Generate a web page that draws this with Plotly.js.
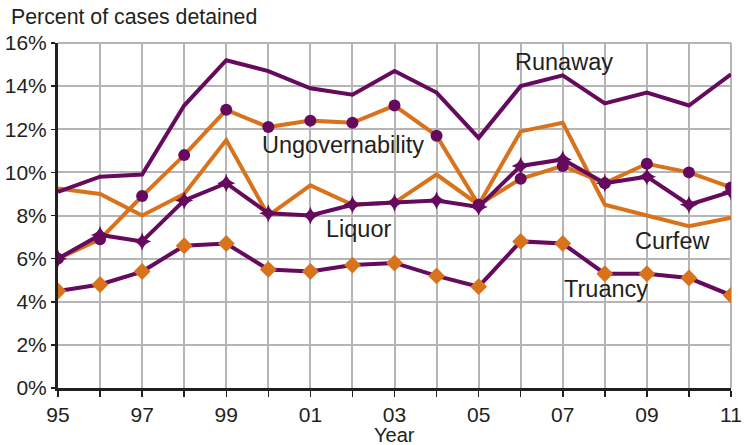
<!DOCTYPE html>
<html>
<head>
<meta charset="utf-8">
<script src="https://cdn.plot.ly/plotly-3.0.1.min.js"></script>
<style>html,body{margin:0;padding:0;background:#fff;}#chart{width:745px;height:445px;}</style>
</head>
<body>
<div id="chart"></div>
<script>
const years = [1995,1996,1997,1998,1999,2000,2001,2002,2003,2004,2005,2006,2007,2008,2009,2010,2011];
const runaway =         [9.1, 9.8, 9.9, 13.1, 15.2, 14.7, 13.9, 13.6, 14.7, 13.7, 11.6, 14.0, 14.5, 13.2, 13.7, 13.1, 14.55];
const ungovernability = [6.0, 6.9, 8.9, 10.8, 12.9, 12.1, 12.4, 12.3, 13.1, 11.7, 8.5, 9.7, 10.3, 9.5, 10.4, 10.0, 9.3];
const curfew =          [9.25, 9.0, 8.0, 9.0, 11.5, 8.0, 9.4, 8.5, 8.6, 9.9, 8.5, 11.9, 12.3, 8.5, 8.0, 7.5, 7.9];
const liquor =          [6.0, 7.1, 6.8, 8.7, 9.5, 8.1, 8.0, 8.5, 8.6, 8.7, 8.4, 10.3, 10.6, 9.5, 9.8, 8.5, 9.1];
const truancy =         [4.5, 4.8, 5.4, 6.6, 6.7, 5.5, 5.4, 5.7, 5.8, 5.2, 4.7, 6.8, 6.7, 5.3, 5.3, 5.1, 4.3];
const xTickText = ["95","","97","","99","","01","","03","","05","","07","","09","","11"];
const yTicks = [0,2,4,6,8,10,12,14,16];
const yTickText = ["0%","2%","4%","6%","8%","10%","12%","14%","16%"];
const seriesLabels = [
  {text:"Runaway", x:2007.04, y:15.12},
  {text:"Ungovernability", x:2001.78, y:11.25},
  {text:"Liquor", x:2002.14, y:7.37},
  {text:"Curfew", x:2009.62, y:6.82},
  {text:"Truancy", x:2008.02, y:4.6}
];

const PURPLE = "#660a5e";
const ORANGE = "#d9731b";
const FONT = "Liberation Sans, Arial, sans-serif";
const TXT = "#231f20";

const traces = [
  {x:years, y:curfew, mode:"lines", line:{color:ORANGE, width:4}},
  {x:years, y:ungovernability, mode:"lines+markers", line:{color:ORANGE, width:4},
   marker:{color:PURPLE, size:12, symbol:"circle"}},
  {x:years, y:runaway, mode:"lines", line:{color:PURPLE, width:4}},
  {x:years, y:liquor, mode:"lines+markers", line:{color:PURPLE, width:4},
   marker:{color:PURPLE, size:13, symbol:"star-diamond"}},
  {x:years, y:truancy, mode:"lines+markers", line:{color:PURPLE, width:4},
   marker:{color:ORANGE, size:13, symbol:"diamond"}}
];

const annotations = seriesLabels.map(l => ({
  text:l.text, x:l.x, y:l.y, xref:"x", yref:"y", showarrow:false,
  font:{family:FONT, size:23.5, color:TXT}
}));
annotations.push({
  text:"Percent of cases detained", xref:"paper", yref:"paper",
  x:-49/673, y:1+26/345, xanchor:"left", yanchor:"middle", showarrow:false,
  font:{family:FONT, size:21.3, color:TXT}
});
annotations.push({
  text:"Year", xref:"paper", yref:"paper",
  x:0.5, y:-60/345, xanchor:"center", yanchor:"bottom", showarrow:false,
  font:{family:FONT, size:20, color:TXT}
});

const layout = {
  width:745, height:445,
  margin:{l:58, r:14, t:43, b:57},
  paper_bgcolor:"#fff", plot_bgcolor:"#fff",
  showlegend:false,
  font:{family:FONT, size:20, color:TXT},
  xaxis:{
    range:[1995, 2011], tickmode:"array", tickvals:years, ticktext:xTickText,
    showgrid:true, gridcolor:"#b5b5b5", gridwidth:2,
    showline:true, linecolor:TXT, linewidth:3,
    ticks:"outside", ticklen:6, tickwidth:1.5, tickcolor:TXT,
    tickfont:{family:FONT, size:21, color:TXT},
    zeroline:false, fixedrange:true
  },
  yaxis:{
    range:[0,16], tickmode:"array", tickvals:yTicks, ticktext:yTickText,
    showgrid:true, gridcolor:"#b5b5b5", gridwidth:2,
    showline:true, linecolor:TXT, linewidth:3,
    ticks:"outside", ticklen:4, tickwidth:1.5, tickcolor:TXT,
    tickfont:{family:FONT, size:21, color:TXT},
    zeroline:false, fixedrange:true
  },
  shapes:[
    {type:"line", xref:"paper", yref:"paper", x0:0, x1:1, y0:1, y1:1, line:{color:"#b5b5b5", width:2}, layer:"below"},
    {type:"line", xref:"paper", yref:"paper", x0:1, x1:1, y0:0, y1:1, line:{color:"#b5b5b5", width:2}, layer:"below"}
  ],
  annotations:annotations
};

Plotly.newPlot("chart", traces, layout, {displayModeBar:false, staticPlot:true});
</script>
</body>
</html>
